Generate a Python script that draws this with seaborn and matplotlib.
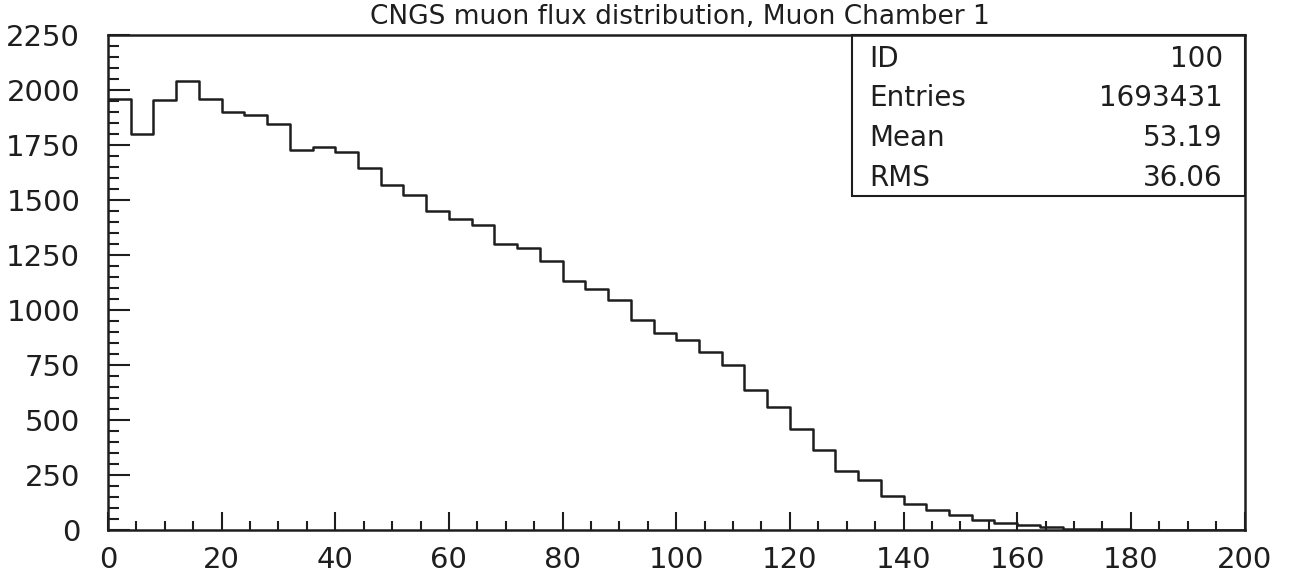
import numpy as np
import pandas as pd
import seaborn as sns
import matplotlib.pyplot as plt
from matplotlib.ticker import MultipleLocator
from matplotlib.patches import Rectangle

# bin centers of the histogram: 50 bins of width 4 between 0 and 200
bin_width = 4
bin_centers = np.arange(2, 200, bin_width)

# bin contents
counts = [1960, 1800, 1953, 2040, 1959, 1898, 1885, 1845, 1726, 1738,
          1716, 1643, 1569, 1520, 1451, 1412, 1387, 1299, 1279, 1220,
          1129, 1094, 1043, 953, 896, 864, 807, 749, 636, 560,
          456, 364, 268, 227, 153, 115, 89, 66, 43, 30,
          22, 12, 5, 3, 2, 1, 1, 0, 0, 0]

title = "CNGS muon flux distribution, Muon Chamber 1"
stat_names = ["ID", "Entries", "Mean", "RMS"]
stat_values = ["100", "1693431", "53.19", "36.06"]

df = pd.DataFrame({"x": bin_centers, "w": counts})

sns.set_theme(style="white")
plt.rcParams['font.family'] = ['DejaVu Sans']
ink = "#1e1e1e"

fig = plt.figure(figsize=(12.93, 5.88), dpi=100)
ax = fig.add_axes([0.0835, 0.099, 0.879, 0.842])

sns.histplot(data=df, x="x", weights="w", binwidth=bin_width, binrange=(0, 200),
             element="step", fill=False, color=ink, linewidth=1.8, ax=ax)

ax.set_xlim(0, 200)
ax.set_ylim(0, 2250)
ax.set_xlabel("")
ax.set_ylabel("")

ax.xaxis.set_major_locator(MultipleLocator(20))
ax.xaxis.set_minor_locator(MultipleLocator(5))
ax.yaxis.set_major_locator(MultipleLocator(250))
ax.yaxis.set_minor_locator(MultipleLocator(50))

# PAW style: ticks pointing inwards, only on the bottom and left axes
ax.tick_params(axis="both", which="both", direction="in", color=ink,
               labelcolor=ink, labelsize=21, bottom=True, left=True,
               top=False, right=False)
ax.tick_params(axis="x", which="major", length=13, width=1.5, pad=12)
ax.tick_params(axis="x", which="minor", length=6.5, width=1.5)
ax.tick_params(axis="y", which="major", length=16, width=1.5, pad=20)
ax.tick_params(axis="y", which="minor", length=8, width=1.5)

for sp in ax.spines.values():
    sp.set_visible(True)
    sp.set_color(ink)
    sp.set_linewidth(1.8)

# statistics box in the upper right corner
ax.add_patch(Rectangle((0.655, 0.674), 0.345, 0.326, transform=ax.transAxes,
                       fill=False, edgecolor=ink, linewidth=1.5, clip_on=False))
row_y = [0.935, 0.855, 0.775, 0.694]
for name, val, yy in zip(stat_names, stat_values, row_y):
    ax.text(0.67, yy, name, transform=ax.transAxes, fontsize=20,
            color=ink, va="baseline", ha="left")
    ax.text(0.981, yy, val, transform=ax.transAxes, fontsize=20,
            color=ink, va="baseline", ha="right")

fig.text(0.526, 0.96, title, fontsize=19, color=ink,
         ha="center", va="baseline")

fig.savefig("out.png", dpi=100, facecolor="white")
